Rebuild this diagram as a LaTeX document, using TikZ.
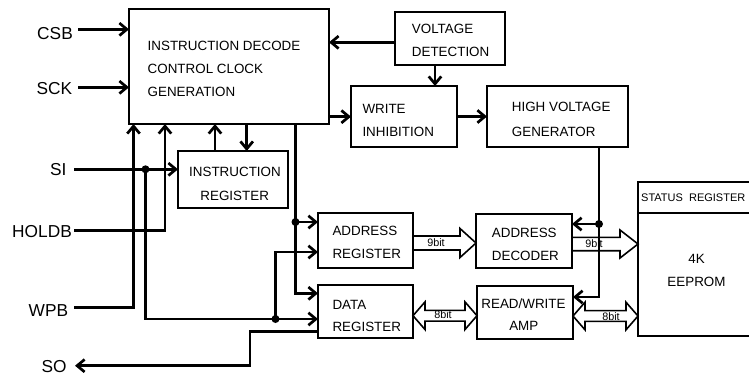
\documentclass[tikz,border=0pt]{standalone}
\usepackage{fontspec}
\setmainfont{Liberation Sans}
\usetikzlibrary{arrows.meta,calc}
\begin{document}
\begin{tikzpicture}[x=1pt,y=-1pt,
  box/.style={draw, line width=1.8pt, rectangle, inner sep=0pt, outer sep=0pt, anchor=north west},
  txt/.style={inner sep=0pt, font=\fontsize{13.4}{16}\selectfont},
  lab/.style={inner sep=0pt, font=\fontsize{17.3}{20}\selectfont, anchor=base east},
  small/.style={inner sep=0pt, font=\fontsize{10.8}{12}\selectfont, anchor=base},
  wire/.style={line width=2.7pt},
  arr/.style={wire, -{Straight Barb[length=7.5pt,width=12.5pt]}},
  fat/.style={draw, line width=1.6pt, line join=miter},
  dot/.style={circle, fill=black, inner sep=0pt, minimum size=8pt},
]
\useasboundingbox (0,0) rectangle (749,376);

% boxes
\node[box, minimum width=200pt, minimum height=115pt] (idc) at (129,9) {};
\node[box, minimum width=110pt, minimum height=53pt] (vd) at (395,12) {};
\node[box, minimum width=106pt, minimum height=61pt] (wi) at (351,86) {};
\node[box, minimum width=141pt, minimum height=61pt] (hvg) at (487,86) {};
\node[box, minimum width=110pt, minimum height=57pt] (ir) at (178,151) {};
\node[box, minimum width=95pt, minimum height=55pt] (ar) at (318,213) {};
\node[box, minimum width=95pt, minimum height=53pt] (dr) at (318,285) {};
\node[box, minimum width=96pt, minimum height=54pt] (ad) at (476,214) {};
\node[box, minimum width=96pt, minimum height=53pt] (rwa) at (477,286) {};
\begin{scope}
  \clip (0,0) rectangle (749,376);
  \node[box, minimum width=130pt, minimum height=154pt] (eep) at (638,182) {};
  \draw[line width=1.8pt] ([yshift=-31pt]eep.north west) -- ([yshift=-31pt]eep.north east);
  \node[inner sep=0pt, font=\fontsize{11}{12}\selectfont, anchor=base west] (sreg) at (641,201) {STATUS\ \ REGISTER};
\end{scope}

% box texts
\node[txt, anchor=base west] (idc1) at (147.5,50.7) {INSTRUCTION DECODE};
\node[txt, anchor=base west] (idc2) at (147.5,73.3) {CONTROL CLOCK};
\node[txt, anchor=base west] (idc3) at (147.5,96.7) {GENERATION};
\node[txt, anchor=base west] (vd1) at (411.7,33.3) {VOLTAGE};
\node[txt, anchor=base west] (vd2) at (411.7,56) {DETECTION};
\node[txt, anchor=base west] (wi1) at (362.3,113.3) {WRITE};
\node[txt, anchor=base west] (wi2) at (362.3,136.7) {INHIBITION};
\node[txt, anchor=base west] (hvg1) at (511.7,111.7) {HIGH VOLTAGE};
\node[txt, anchor=base west] (hvg2) at (511.7,136) {GENERATOR};
\node[txt, anchor=base] (ir1) at (235,176) {INSTRUCTION};
\node[txt, anchor=base] (ir2) at (234.7,200) {REGISTER};
\node[txt, anchor=base west] (ar1) at (332.3,235.7) {ADDRESS};
\node[txt, anchor=base west] (ar2) at (332.3,258.3) {REGISTER};
\node[txt, anchor=base west] (dr1) at (332.3,309) {DATA};
\node[txt, anchor=base west] (dr2) at (332.3,331) {REGISTER};
\node[txt, anchor=base west] (ad1) at (491.7,237.3) {ADDRESS};
\node[txt, anchor=base west] (ad2) at (491.7,260) {DECODER};
\node[txt, anchor=base] (rwa1) at (523.5,308.3) {READ/WRITE};
\node[txt, anchor=base] (rwa2) at (523.8,330.7) {AMP};
\node[txt, anchor=base] (eep1) at (696.5,263.3) {4K};
\node[txt, anchor=base] (eep2) at (696.5,286.7) {EEPROM};

% pin labels
\node[lab] (csb) at (73,39.3) {CSB};
\node[lab] (sck) at (72.3,94.3) {SCK};
\node[lab] (si) at (66.7,175.7) {SI};
\node[lab] (holdb) at (72,237.3) {HOLDB};
\node[lab] (wpb) at (68.3,316.7) {WPB};
\node[lab] (so) at (66.7,372.3) {SO};

% fat bus arrows
\coordinate (f1b) at ([yshift=-2pt]ad.west);
\coordinate (f1a) at (f1b -| ar.east);
\draw[fat] ($(f1a)+(0,-7)$) -- ($(f1b)+(-16,-7)$) -- ($(f1b)+(-16,-14.5)$) -- (f1b)
  -- ($(f1b)+(-16,14.5)$) -- ($(f1b)+(-16,7)$) -- ($(f1a)+(0,7)$);
\node[small] (b1) at (436,246.7) {9bit};

\coordinate (f2b) at ([yshift=15pt]eep.west);
\coordinate (f2a) at (f2b -| ad.east);
\draw[fat] ($(f2a)+(0,-6.7)$) -- ($(f2b)+(-18,-6.7)$) -- ($(f2b)+(-18,-14)$) -- (f2b)
  -- ($(f2b)+(-18,14)$) -- ($(f2b)+(-18,6.7)$) -- ($(f2a)+(0,6.7)$);
\node[small] (b2) at (594,247.7) {9bit};

\coordinate (f3a) at ([yshift=-4.2pt]dr.east);
\coordinate (f3b) at (f3a -| rwa.west);
\draw[fat] (f3a) -- ($(f3a)+(12,-13.8)$) -- ($(f3a)+(12,-5.4)$) -- ($(f3b)+(-12,-5.4)$)
  -- ($(f3b)+(-12,-13.8)$) -- (f3b) -- ($(f3b)+(-12,13.8)$) -- ($(f3b)+(-12,5.4)$)
  -- ($(f3a)+(12,5.4)$) -- ($(f3a)+(12,13.8)$) -- cycle;
\node[small] (b3) at (443,318.3) {8bit};

\coordinate (f4a) at ([yshift=-3.5pt]rwa.east);
\coordinate (f4b) at (f4a -| eep.west);
\draw[fat] (f4a) -- ($(f4a)+(12,-13.8)$) -- ($(f4a)+(12,-5.4)$) -- ($(f4b)+(-12,-5.4)$)
  -- ($(f4b)+(-12,-13.8)$) -- (f4b) -- ($(f4b)+(-12,13.8)$) -- ($(f4b)+(-12,5.4)$)
  -- ($(f4a)+(12,5.4)$) -- ($(f4a)+(12,13.8)$) -- cycle;
\node[small] (b4) at (611,320) {8bit};

% input pins
\coordinate (csbp) at (78,29.3);
\draw[arr] (csbp) -- (csbp -| idc.west);
\coordinate (sckp) at (78,87.3);
\draw[arr] (sckp) -- (sckp -| idc.west);

\coordinate (sip) at (74,169.3);
\draw[arr] (sip) -- (sip -| ir.west);
\node[dot] (d1) at (145.5,169.3) {};
\node[dot] (d2) at (275.5,319) {};
\draw[arr] (d1.center) |- (d2.center -| dr.west);
\draw[arr] (d2.center) |- ([yshift=16pt]ar.south west);

\coordinate (holdp) at (74,230.7);
\draw[arr] (holdp) -| ([xshift=36pt]idc.south west);
\coordinate (wpbp) at (74,307.7);
\draw[arr] (wpbp) -| ([xshift=4.5pt]idc.south west);

% IDC <-> IR
\coordinate (irA) at ([xshift=37pt]ir.north west);
\draw[arr] (irA) -- (irA |- idc.south);
\coordinate (irB) at ([xshift=68.7pt]ir.north west);
\draw[arr] (irB |- idc.south) -- (irB);

% IDC to address / data registers
\coordinate (idcB) at ([xshift=166.5pt]idc.south west);
\node[dot] (d3) at (295.5,222) {};
\draw[wire] (idcB) -- (d3.center);
\draw[arr] (d3.center) -- (d3.center -| ar.west);
\draw[arr] (d3.center) |- ([yshift=-8.3pt]dr.north west);

% SO output
\coordinate (drso) at ([yshift=6.3pt]dr.south west);
\coordinate (sob) at (250,365.7);
\coordinate (sop) at (75,365.7);
\draw[arr] (drso) -| (sob) -- (sop);

% voltage detection / write inhibit
\coordinate (vdA) at ([yshift=-30.3pt]vd.north west);
\draw[arr] (vdA) -- (vdA -| idc.east);
\coordinate (vdB) at ([xshift=40pt]vd.south west);
\draw[arr] (vdB) -- (vdB |- wi.north);
\coordinate (idcC) at ([yshift=7.3pt]idc.south east);
\draw[arr] (idcC) -- (idcC -| wi.west);
\draw[arr] (wi.east) -- (wi.east -| hvg.west);

% high voltage distribution
\coordinate (hvgB) at ([xshift=112pt]hvg.south west);
\node[dot] (d4) at (599,224) {};
\draw[wire] (hvgB) -- (d4.center);
\draw[arr] (d4.center) -- (d4.center -| ad.east);
\draw[arr] (d4.center) |- ([yshift=-11pt]rwa.north east);
\end{tikzpicture}
\end{document}
